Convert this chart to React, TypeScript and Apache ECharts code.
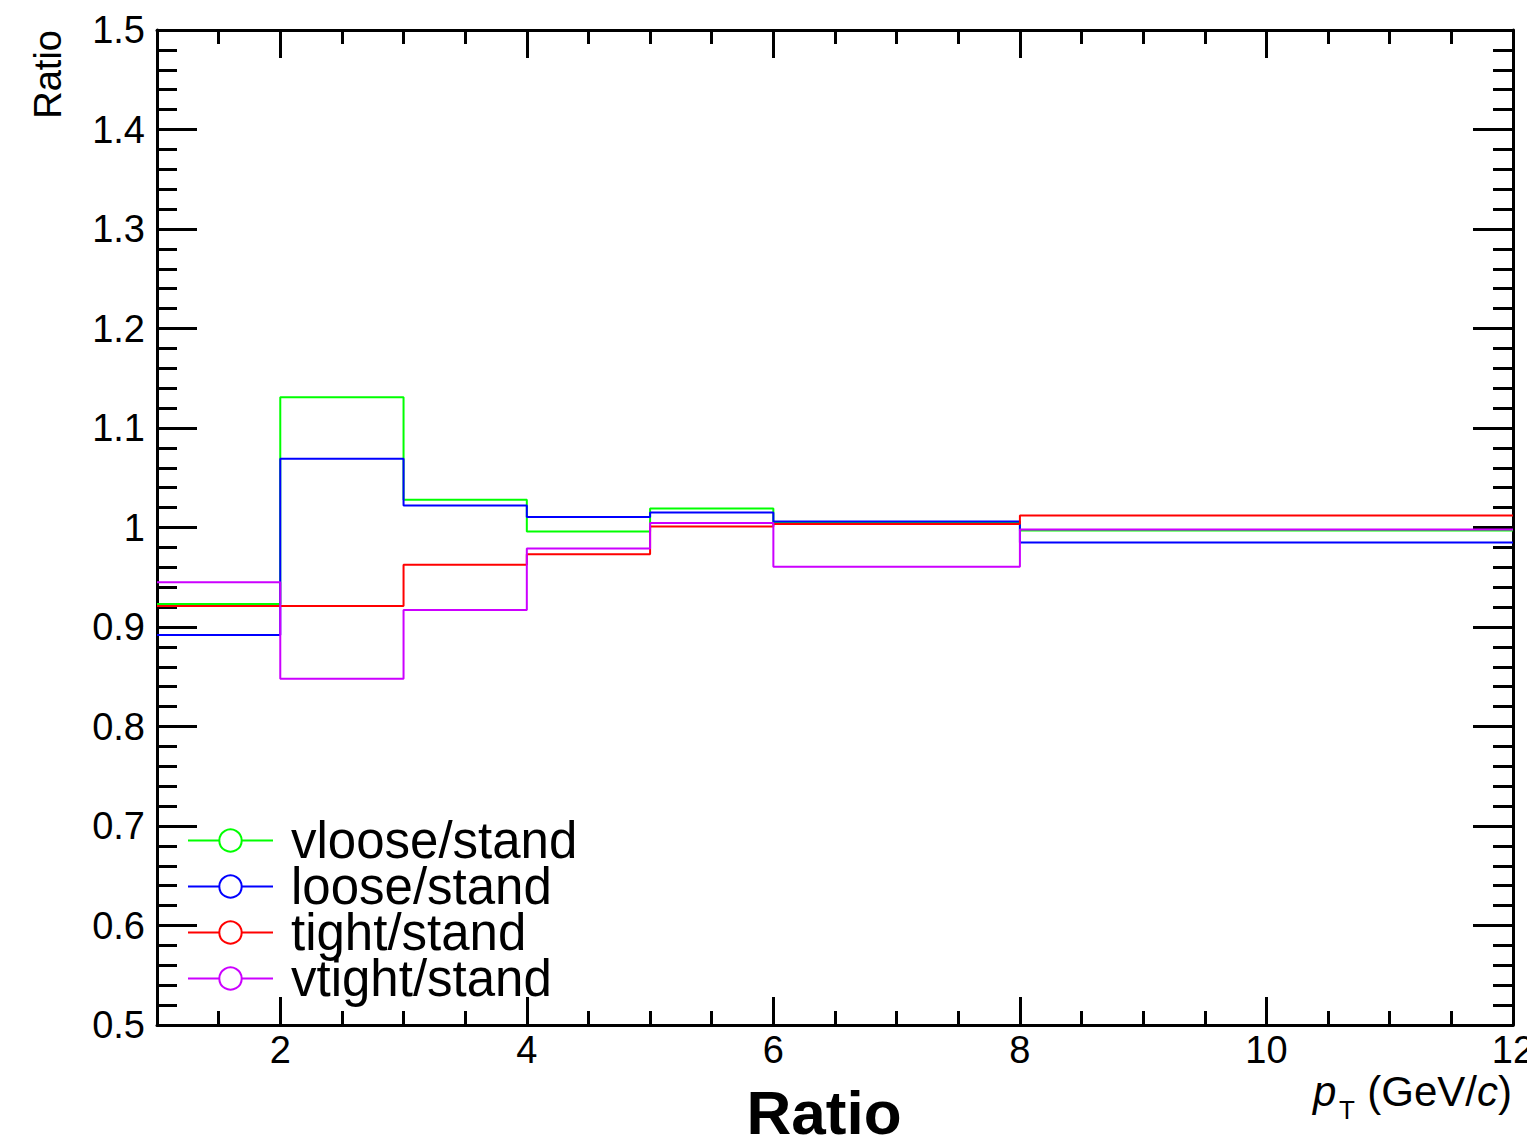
import React, { useEffect, useRef } from 'react';
import * as echarts from 'echarts';

// Bin edges of the pT histogram (GeV/c)
const binEdges = [1, 2, 3, 4, 5, 6, 8, 12];

// Ratio per bin
const vlooseRatio = [0.923, 1.131, 1.028, 0.996, 1.019, 1.005, 0.997];
const looseRatio = [0.892, 1.069, 1.022, 1.0105, 1.015, 1.006, 0.985];
const tightRatio = [0.921, 0.921, 0.9625, 0.973, 1.001, 1.0035, 1.012];
const vtightRatio = [0.945, 0.848, 0.917, 0.979, 1.0045, 0.9605, 0.998];

const seriesNames = ['vloose/stand', 'loose/stand', 'tight/stand', 'vtight/stand'];
const seriesValues = [vlooseRatio, looseRatio, tightRatio, vtightRatio];
const seriesColors = ['#00ff00', '#0000ff', '#ff0000', '#cc00ff'];

// Axis tick positions
const xMajorTicks = [2, 4, 6, 8, 10, 12];
const xMinorTicks = [1.5, 2, 2.5, 3, 3.5, 4, 4.5, 5, 5.5, 6, 6.5, 7, 7.5, 8, 8.5, 9, 9.5, 10, 10.5, 11, 11.5];

const FONT = "'Liberation Sans', Arial, Helvetica, sans-serif";

function stepPoints(values: number[]): number[][] {
  const pts = values.map((v, i) => [binEdges[i], v]);
  pts.push([binEdges[binEdges.length - 1], values[values.length - 1]]);
  return pts;
}

const frameLine = { show: true, lineStyle: { color: '#000', width: 3 } };
const tickStyle = { color: '#000', width: 3 };

export default function App() {
  const ref = useRef<HTMLDivElement>(null);

  useEffect(() => {
    if (!ref.current) return;
    const chart = echarts.init(ref.current, undefined, { renderer: 'svg' });

    const xCommon = { type: 'value', min: 1, max: 12, interval: 0.5, splitLine: { show: false }, gridIndex: 0 };
    const yCommon = { type: 'value', min: 0.5, max: 1.5, interval: 0.1, splitLine: { show: false } };

    const option: any = {
      animation: false,
      backgroundColor: '#fff',
      grid: { left: 157, right: 14, top: 30, bottom: 119, containLabel: false, outerBoundsMode: 'none' },
      xAxis: [
        {
          ...xCommon,
          position: 'bottom',
          axisLine: frameLine,
          axisTick: { show: true, inside: true, length: 28, lineStyle: tickStyle, customValues: xMajorTicks },
          minorTick: { show: false },
          axisLabel: {
            show: true,
            customValues: xMajorTicks,
            color: '#000',
            fontSize: 38,
            fontFamily: FONT,
            margin: 6,
          },
        },
        {
          ...xCommon,
          position: 'bottom',
          axisLine: { show: false },
          axisTick: { show: true, inside: true, length: 14, lineStyle: tickStyle, customValues: xMinorTicks },
          axisLabel: { show: false },
        },
        {
          ...xCommon,
          position: 'top',
          axisLine: frameLine,
          axisTick: { show: true, inside: true, length: 28, lineStyle: tickStyle, customValues: xMajorTicks },
          axisLabel: { show: false },
        },
        {
          ...xCommon,
          position: 'top',
          axisLine: { show: false },
          axisTick: { show: true, inside: true, length: 14, lineStyle: tickStyle, customValues: xMinorTicks },
          axisLabel: { show: false },
        },
      ],
      yAxis: [
        {
          ...yCommon,
          position: 'left',
          axisLine: frameLine,
          axisTick: { show: true, inside: true, length: 40, lineStyle: tickStyle },
          minorTick: { show: true, splitNumber: 5, length: 20, lineStyle: tickStyle },
          axisLabel: {
            show: true,
            color: '#000',
            fontSize: 38,
            fontFamily: FONT,
            margin: 12,
          },
        },
        {
          ...yCommon,
          position: 'right',
          axisLine: frameLine,
          axisTick: { show: true, inside: true, length: 40, lineStyle: tickStyle },
          minorTick: { show: true, splitNumber: 5, length: 20, lineStyle: tickStyle },
          axisLabel: { show: false },
        },
      ],
      legend: {
        show: true,
        orient: 'vertical',
        left: 187,
        top: 815,
        padding: 0,
        itemWidth: 85,
        itemHeight: 28,
        itemGap: -5,
        selectedMode: false,
        data: seriesNames,
        textStyle: {
          color: '#000',
          fontSize: 51,
          fontFamily: FONT,
          lineHeight: 46,
          padding: [0, 0, 0, 13],
        },
      },
      series: seriesNames.map((name, i) => ({
        name,
        type: 'line',
        xAxisIndex: 0,
        yAxisIndex: 0,
        step: 'end',
        data: stepPoints(seriesValues[i]),
        symbol: 'emptyCircle',
        showSymbol: false,
        color: seriesColors[i],
        lineStyle: { color: seriesColors[i], width: 2 },
        itemStyle: { color: seriesColors[i] },
        z: 2 + i,
      })),
      graphic: [
        {
          type: 'text',
          x: 48,
          y: 30,
          rotation: Math.PI / 2,
          style: {
            text: 'Ratio',
            fontSize: 38,
            fontFamily: FONT,
            fill: '#000',
            align: 'right',
            verticalAlign: 'middle',
          },
        },
        {
          type: 'text',
          x: 1313,
          y: 1091,
          style: {
            text: 'p',
            fontSize: 42,
            fontStyle: 'italic',
            fontFamily: FONT,
            fill: '#000',
            align: 'left',
            verticalAlign: 'middle',
            lineHeight: 36,
          },
        },
        {
          type: 'text',
          x: 1347,
          y: 1110,
          style: {
            text: 'T',
            fontSize: 26,
            fontFamily: FONT,
            fill: '#000',
            align: 'center',
            verticalAlign: 'middle',
            lineHeight: 24,
          },
        },
        {
          type: 'text',
          x: 1512,
          y: 1091,
          style: {
            text: '(GeV/{c|c})',
            fontSize: 42,
            fontFamily: FONT,
            fill: '#000',
            align: 'right',
            verticalAlign: 'middle',
            lineHeight: 38,
            rich: {
              c: { fontSize: 42, fontFamily: FONT, fontStyle: 'italic', fill: '#000', lineHeight: 38 },
            },
          },
        },
        {
          type: 'text',
          x: 824,
          y: 1112,
          style: {
            text: 'Ratio',
            fontSize: 62,
            fontWeight: 'bold',
            fontFamily: FONT,
            fill: '#000',
            align: 'center',
            verticalAlign: 'middle',
            lineHeight: 56,
          },
        },
      ],
    };

    chart.setOption(option);
    return () => {
      chart.dispose();
    };
  }, []);

  return (
    <div
      ref={ref}
      style={{ position: 'absolute', left: 0, top: 0, width: 1527, height: 1144, background: '#fff' }}
    />
  );
}
